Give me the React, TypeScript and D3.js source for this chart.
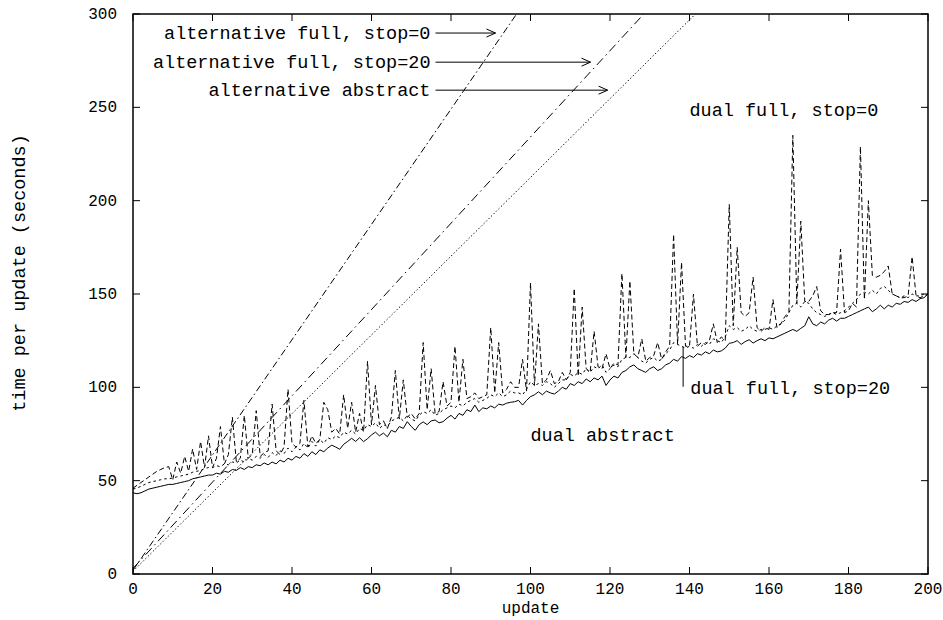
import React from "react";
import * as d3 from "d3";

// ---------- data ----------
const xTicks = [0, 20, 40, 60, 80, 100, 120, 140, 160, 180, 200];
const yTicks = [0, 50, 100, 150, 200, 250, 300];

// dual abstract (solid), one value per update 0..200
const dualAbstract = [
  43.5, 43, 43.5, 44.5, 45.5, 46, 46.5, 47, 47.5, 48,
  48, 48.5, 49, 49.5, 50, 51, 51.5, 52, 52.5, 53,
  53, 54, 53.5, 55, 54.5, 56, 55.5, 57, 56, 57.5,
  57, 58.5, 58, 59.5, 58.5, 60, 59, 61, 60, 62,
  61, 63, 62, 64.5, 63, 65.5, 64, 66.5, 65.5, 67.5,
  69, 68, 66.8, 69.5, 71, 72.7, 71, 73, 70.9, 72.5,
  74.5, 76, 74, 75.5, 73.5, 77, 76, 79, 78, 81.6,
  79, 77, 80, 81.5, 80, 82, 82.5, 81, 81.6, 83.5,
  85, 83, 86, 85, 88, 87, 90.5, 87, 89, 88.5,
  90, 89, 91, 90.5, 91.5, 92, 92.3, 93, 90.5, 93,
  95, 96, 97.6, 96, 98, 97, 96.4, 98, 100, 99,
  102, 101, 103, 102, 104.5, 103, 105, 104, 106, 101,
  104, 106, 105, 108, 109, 111, 112, 110, 109, 108,
  110, 111, 109, 110, 112, 113, 115, 114, 116.5, 115.5,
  117, 116, 118, 117.3, 119, 118, 120, 119, 119.5, 121,
  123.6, 124, 125, 123, 124.5, 125.5, 123.7, 125, 126, 125,
  126.5, 126, 127, 128, 129, 130, 131, 130, 131.6, 133,
  137.8, 134, 133, 135, 134, 136, 137, 135.5, 137, 137,
  138, 139, 140, 141, 142, 143, 140.5, 142, 144, 142,
  144, 143, 145, 144.5, 146, 145.5, 147, 146, 147.5, 148,
  150,
];

// dual full, stop=20 (short dashes)
const dualFull20 = [
  45.5, 46, 47, 48, 49, 49.5, 50, 50.5, 51, 51,
  51.5, 52, 52.5, 53, 53.5, 54.5, 55, 55.5, 56.5, 57,
  57, 58, 57.5, 59, 58.5, 60, 59.5, 61, 60, 62,
  61, 63, 62, 64, 62.5, 65, 63.5, 66, 64.5, 67.5,
  65.5, 68, 66.5, 70, 67.5, 71, 68.5, 72, 70, 73,
  72, 74, 73, 76, 75, 77, 75, 78, 77, 80,
  79, 81, 78, 80, 79, 82, 83, 84, 82, 85,
  83, 82, 85, 87, 86, 88, 85, 86, 88, 89,
  90, 89, 91, 90, 92, 93, 94, 92, 93, 94,
  96, 95, 97, 95, 96, 98, 97, 97, 96, 99,
  103, 101, 102, 101, 103, 102, 100, 102, 104, 104,
  107, 106, 108, 107, 110, 108, 111, 110, 112, 108,
  110, 112, 111, 115, 116, 116, 118, 116, 114, 113,
  115, 116, 114, 115, 118, 120, 124, 123, 122, 121,
  122, 121, 123, 122, 124, 123, 126, 125, 124, 127,
  133, 131, 132, 130, 131, 133, 131, 130, 131, 131,
  132, 131, 133, 134, 136, 140, 144, 145, 143, 146,
  145, 142, 140, 139, 138, 139, 140, 139, 140, 141,
  143, 145, 147, 150, 151, 150, 152, 150, 153, 154,
  152, 150, 149, 148, 149, 148, 150, 149, 149, 150,
  150,
];

// dual full, stop=0 (dashed, spiky)
const dualFull0 = [
  46, 47.5, 49, 50.5, 52, 53.5, 55, 56, 57, 57.5,
  50.5, 60, 54, 63, 55, 67, 56, 71, 57, 74,
  57, 62, 79, 59, 64, 84, 60, 62, 85, 62,
  64, 87.5, 63, 65, 66, 91, 66, 64, 68, 99,
  70, 68, 70, 93, 68, 74, 70, 72, 92, 88,
  76, 78, 75, 96, 78, 92, 76, 86, 76, 114,
  80, 101, 80, 82, 78, 84, 109, 83, 104, 84,
  86, 83, 86, 124, 88, 110, 86, 87, 103, 90,
  92, 122, 92, 115, 94, 95, 97, 94, 95, 96,
  132, 97, 124, 97, 99, 103, 100, 100, 115, 98,
  156, 101, 134, 102, 104, 109, 102, 103, 108, 104,
  108, 153, 106, 143, 110, 108, 130, 111, 110, 118,
  110, 113, 112, 161, 116, 157, 118, 116, 126, 114,
  116, 117, 124, 115, 119, 122, 182, 123, 167, 122,
  122, 150, 122, 124, 123, 125, 134, 124, 127, 125,
  198, 133, 175, 140, 138, 140, 159, 132, 130, 132,
  131, 147, 132, 134, 138, 140, 235, 145, 189, 146,
  146, 149, 154, 141, 139, 139, 140, 140, 174, 140,
  141, 145, 143, 229, 147, 200, 160, 159, 160, 162,
  165, 150, 149, 148, 148, 149, 170, 149, 148, 149,
  150,
];

// alternative lines (update, seconds), straight runs
const altFull0 = [[0, 2], [96.5, 300]];
const altFull20 = [[0, 3], [128.5, 300]];
const altAbstract = [[0, 1.5], [141.5, 300]];

// annotation anchors in data units
const arrowStartX = 76.1;
const altLabels = [
  { text: "alternative full, stop=0", y: 289.8, tipX: 91.2 },
  { text: "alternative full, stop=20", y: 274.2, tipX: 115.1 },
  { text: "alternative abstract", y: 259.2, tipX: 119.4 },
];
const dualLabels = [
  { text: "dual full, stop=0", x: 140, y: 248.5 },
  { text: "dual full, stop=20", x: 140.2, y: 99.6 },
  { text: "dual abstract", x: 100, y: 74.4 },
];
const pointer20 = { x: 138.4, y0: 121.7, y1: 100.3 };

// ---------- layout ----------
const W = 943;
const H = 620;
const left = 133, right = 928, top = 14, bottom = 574;
const FONT = "'Liberation Mono', 'Courier New', monospace";
const FS = 18.5;
const TFS = 16;

export default function App() {
  const x = d3.scaleLinear().domain([0, 200]).range([left, right]);
  const y = d3.scaleLinear().domain([0, 300]).range([bottom, top]);

  const seriesLine = d3
    .line<number>()
    .x((_, i) => x(i))
    .y((d) => y(d));
  const ptLine = d3
    .line<number[]>()
    .x((d) => x(d[0]))
    .y((d) => y(d[1]));

  const tickLen = 7;

  return (
    <svg
      width={W}
      height={H}
      style={{ position: "absolute", left: 0, top: 0, background: "#fff" }}
      fontFamily={FONT}
    >
      <defs>
        <clipPath id="plot">
          <rect x={left} y={top} width={right - left} height={bottom - top} />
        </clipPath>
      </defs>

      <g clipPath="url(#plot)" fill="none" stroke="#000" strokeWidth={1}>
        <path d={ptLine(altFull0) || ""} strokeDasharray="7,3,1.5,3" />
        <path d={ptLine(altFull20) || ""} strokeDasharray="9,4,1.5,4" />
        <path d={ptLine(altAbstract) || ""} strokeDasharray="1.3,2.2" />
        <path d={seriesLine(dualFull0) || ""} strokeDasharray="5,3" />
        <path d={seriesLine(dualFull20) || ""} strokeDasharray="2.5,3" />
        <path d={seriesLine(dualAbstract) || ""} />
      </g>

      {/* frame */}
      <rect
        x={left}
        y={top}
        width={right - left}
        height={bottom - top}
        fill="none"
        stroke="#000"
        strokeWidth={1.5}
      />
      {xTicks.map((t) => (
        <g key={"xt" + t} stroke="#000" strokeWidth={1}>
          <line x1={x(t)} x2={x(t)} y1={bottom} y2={bottom - tickLen} />
          <line x1={x(t)} x2={x(t)} y1={top} y2={top + tickLen} />
        </g>
      ))}
      {yTicks.map((t) => (
        <g key={"yt" + t} stroke="#000" strokeWidth={1}>
          <line x1={left} x2={left + tickLen} y1={y(t)} y2={y(t)} />
          <line x1={right} x2={right - tickLen} y1={y(t)} y2={y(t)} />
        </g>
      ))}

      {/* tick labels */}
      {xTicks.map((t) => (
        <text
          key={"xl" + t}
          x={x(t)}
          y={594}
          fontSize={TFS}
          textAnchor="middle"
          fill="#000"
        >
          {t}
        </text>
      ))}
      {yTicks.map((t) => (
        <text
          key={"yl" + t}
          x={117}
          y={y(t) + 5}
          fontSize={TFS}
          textAnchor="end"
          fill="#000"
        >
          {t}
        </text>
      ))}

      {/* axis titles */}
      <text x={x(100)} y={613} fontSize={TFS} textAnchor="middle" fill="#000">
        update
      </text>
      <text
        transform={`translate(25, 273) rotate(-90)`}
        fontSize={FS}
        textAnchor="middle"
        fill="#000"
      >
        time per update (seconds)
      </text>

      {/* alternative labels with arrows */}
      {altLabels.map((a) => {
        const yy = y(a.y);
        const x0 = x(arrowStartX);
        const x1 = x(a.tipX);
        return (
          <g key={a.text}>
            <text x={x0 - 5} y={yy + 5.5} fontSize={FS} textAnchor="end" fill="#000">
              {a.text}
            </text>
            <line x1={x0} x2={x1} y1={yy} y2={yy} stroke="#000" strokeWidth={1} />
            <path
              d={`M${x1 - 9},${yy - 4}L${x1},${yy}L${x1 - 9},${yy + 4}`}
              fill="none"
              stroke="#000"
              strokeWidth={1}
            />
          </g>
        );
      })}

      {/* dual labels */}
      {dualLabels.map((d) => (
        <text key={d.text} x={x(d.x)} y={y(d.y) + 5.5} fontSize={FS} fill="#000">
          {d.text}
        </text>
      ))}
      <line
        x1={x(pointer20.x)}
        x2={x(pointer20.x)}
        y1={y(pointer20.y0)}
        y2={y(pointer20.y1)}
        stroke="#000"
        strokeWidth={1}
      />
    </svg>
  );
}
